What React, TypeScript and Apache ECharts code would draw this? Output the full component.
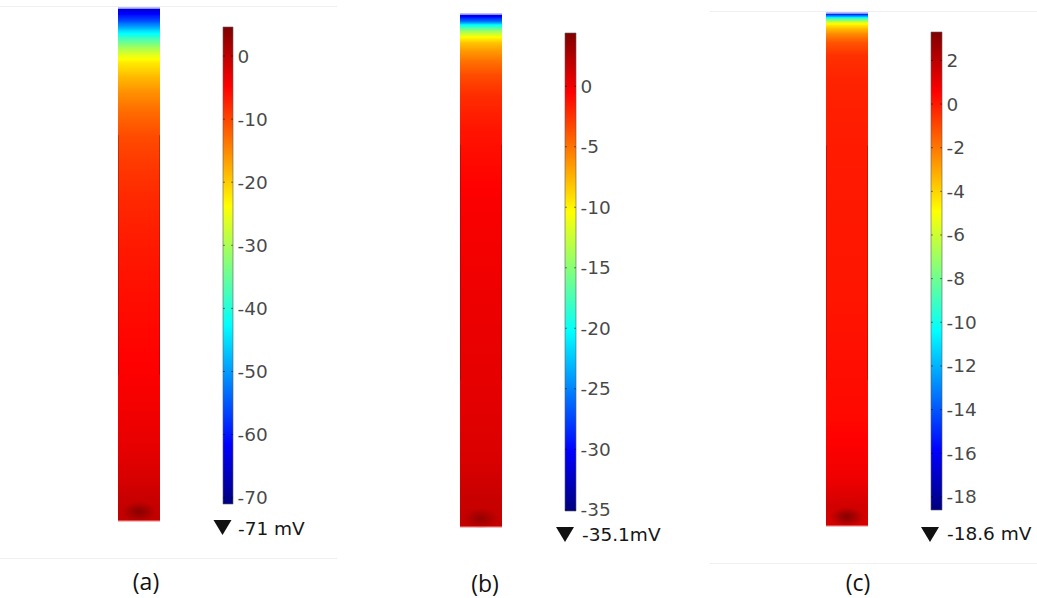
import React, { useEffect, useRef } from 'react';
import * as echarts from 'echarts';

// Rainbow (jet) colour scale stops, from minimum to maximum
const rainbowStops = ['#00007f', '#0000ff', '#007fff', '#00ffff', '#7fff7f', '#ffff00', '#ff7f00', '#ff0000', '#7f0000'];

const panelLabels = ['(a)', '(b)', '(c)'];
const rangeMin = [-71, -35.1, -18.6];
const rangeMax = [4.6, 4.4, 3.3];
const minReadouts = ['-71 mV', '-35.1mV', '-18.6 mV'];

const ticksA = [0, -10, -20, -30, -40, -50, -60, -70];
const ticksB = [0, -5, -10, -15, -20, -25, -30, -35];
const ticksC = [2, 0, -2, -4, -6, -8, -10, -12, -14, -16, -18];

// depth along the column (% of its length, from the top) and potential (mV)
const depthA = [0, 1.4, 2.7, 4.3, 5.8, 7.6, 9.2, 10.5, 13.1, 16.0, 19.9, 24.8, 30.6, 37.4, 47.2, 56.9, 66.7, 76.4, 86.2, 92.0, 95.9, 100];
const potentialA = [-66, -60.5, -55, -46, -38.5, -31, -25.6, -22.6, -19, -16, -13, -10.5, -9, -7.8, -6.6, -5.8, -5.1, -4.2, -3, -1.8, -0.8, -0.2];
const depthB = [0, 0.8, 1.6, 2.1, 2.7, 3.3, 4.3, 5.5, 7.0, 9.0, 11.9, 15.8, 22.6, 36.3, 55.8, 75.2, 86.9, 93.8, 100];
const potentialB = [-32.5, -28.8, -25, -20.5, -17.5, -14.5, -11, -8.3, -6.7, -5.1, -3.5, -2.3, -1.3, -0.4, 0.1, 0.5, 0.9, 1.5, 1.8];
const depthC = [0, 0.4, 0.8, 1.2, 1.8, 2.3, 3.1, 4.1, 5.7, 8.2, 13.1, 26.7, 55.9, 79.3, 91.0, 95.9, 100];
const potentialC = [-17, -14.2, -11.4, -8.5, -5.8, -4.6, -3.5, -2.4, -1.3, -0.5, -0.2, 0, 0.1, 0.4, 0.9, 1.5, 1.5];

// local maximum near the bottom of each column
const peakDepth = [98.2, 98.3, 98.2];
const peakPotential = [4, 3.6, 3.2];

// inner subdomain boundaries (% depth)
const subdomainA = [24.8, 71.5];
const subdomainB = [25.5, 71.3];
const subdomainC = [25.8, 71.5];

// ---- layout (pixels) ----
const LAYOUT = [
  { col: [118, 8, 42, 513], bar: [223, 27, 10, 477], tri: [222.5, 520], readout: [238, 528], caption: [146, 581] },
  { col: [460, 14, 42, 513], bar: [565, 33, 11, 478], tri: [565, 527], readout: [582, 534], caption: [485, 583] },
  { col: [826, 13, 42, 513], bar: [931, 32, 11, 478], tri: [930, 527], readout: [947, 533], caption: [858, 582] },
];

const LABEL_FONT = '"DejaVu Sans", Verdana, sans-serif';

function colorAt(t: number) {
  return echarts.color.lerp(Math.min(1, Math.max(0, t)), rainbowStops) as string;
}

function gradientStops(n0: number, n1: number) {
  const stops: { offset: number; color: string }[] = [{ offset: 0, color: colorAt(n0) }];
  const a = Math.min(n0, n1), b = Math.max(n0, n1);
  for (let k = 1; k < rainbowStops.length - 1; k++) {
    const s = k / (rainbowStops.length - 1);
    if (s > a && s < b && n1 !== n0) {
      stops.push({ offset: (s - n0) / (n1 - n0), color: rainbowStops[k] });
    }
  }
  stops.push({ offset: 1, color: colorAt(n1) });
  stops.sort((p, q) => p.offset - q.offset);
  return stops;
}

function buildOption() {
  const panels = [
    { depth: depthA, pot: potentialA, ticks: ticksA, sub: subdomainA },
    { depth: depthB, pot: potentialB, ticks: ticksB, sub: subdomainB },
    { depth: depthC, pot: potentialC, ticks: ticksC, sub: subdomainC },
  ];
  const grid: any[] = [];
  const xAxis: any[] = [];
  const yAxis: any[] = [];
  const series: any[] = [];
  const graphic: any[] = [];

  panels.forEach((p, i) => {
    const L = LAYOUT[i];
    const lo = rangeMin[i];
    const hi = rangeMax[i];
    const norm = (v: number) => (v - lo) / (hi - lo);

    const gCol = grid.length;
    grid.push({ left: L.col[0], top: L.col[1], width: L.col[2], height: L.col[3] });
    xAxis.push({ type: 'value', gridIndex: gCol, min: 0, max: 1, show: false });
    yAxis.push({ type: 'value', gridIndex: gCol, min: 0, max: 100, inverse: true, show: false });

    const gBar = grid.length;
    grid.push({ left: L.bar[0], top: L.bar[1], width: L.bar[2], height: L.bar[3] });
    xAxis.push({ type: 'value', gridIndex: gBar, min: 0, max: 1, show: false });
    yAxis.push({ type: 'value', gridIndex: gBar, min: lo, max: hi, show: false });

    // column field
    const segments = p.depth.slice(0, -1).map((d, k) => [d, p.depth[k + 1], p.pot[k], p.pot[k + 1]]);
    series.push({
      type: 'custom', xAxisIndex: gCol, yAxisIndex: gCol, silent: true, data: segments,
      renderItem: (params: any, api: any) => {
        const p0 = api.coord([0, api.value(0)]);
        const p1 = api.coord([1, api.value(1)]);
        return {
          type: 'rect',
          shape: { x: p0[0], y: p0[1] - 0.3, width: p1[0] - p0[0], height: p1[1] - p0[1] + 0.6 },
          style: { fill: new echarts.graphic.LinearGradient(0, 0, 0, 1, gradientStops(norm(api.value(2)), norm(api.value(3)))) },
        };
      },
    });

    // bottom local maximum
    series.push({
      type: 'custom', xAxisIndex: gCol, yAxisIndex: gCol, silent: true,
      data: [[peakDepth[i], peakPotential[i]]],
      renderItem: (params: any, api: any) => {
        const c = api.coord([0.5, api.value(0)]);
        const col = colorAt(norm(api.value(1)));
        const w = 34, h = 20;
        return {
          type: 'rect',
          shape: { x: c[0] - w / 2, y: c[1] - h / 2, width: w, height: h },
          style: {
            fill: new echarts.graphic.RadialGradient(0.5, 0.5, 0.5, [
              { offset: 0, color: col },
              { offset: 0.45, color: echarts.color.modifyAlpha(col, 0.55) },
              { offset: 1, color: echarts.color.modifyAlpha(col, 0) },
            ]),
          },
        };
      },
    });

    // edges: subdomain boundary lines, top & bottom boundaries
    series.push({
      type: 'custom', xAxisIndex: gCol, yAxisIndex: gCol, silent: true,
      data: [[p.sub[0], p.sub[1]]],
      renderItem: (params: any, api: any) => {
        const a0 = api.coord([0, api.value(0)]);
        const a1 = api.coord([1, api.value(1)]);
        const top = api.coord([0, 0]);
        const topR = api.coord([1, 0]);
        const bot = api.coord([0, 100]);
        const botR = api.coord([1, 100]);
        const edge = { stroke: 'rgba(90,0,0,0.3)', lineWidth: 1 };
        return {
          type: 'group',
          children: [
            { type: 'line', shape: { x1: a0[0] + 0.5, y1: a0[1], x2: a0[0] + 0.5, y2: a1[1] }, style: edge },
            { type: 'line', shape: { x1: a1[0] - 0.5, y1: a0[1], x2: a1[0] - 0.5, y2: a1[1] }, style: edge },
            { type: 'line', shape: { x1: top[0], y1: top[1] + 0.5, x2: topR[0], y2: topR[1] + 0.5 }, style: { stroke: 'rgba(170,170,255,0.85)', lineWidth: 1 } },
            { type: 'line', shape: { x1: bot[0], y1: bot[1] - 0.5, x2: botR[0], y2: botR[1] - 0.5 }, style: { stroke: 'rgba(240,90,90,0.8)', lineWidth: 1 } },
          ],
        };
      },
    });

    // colour bar
    series.push({
      type: 'custom', xAxisIndex: gBar, yAxisIndex: gBar, silent: true,
      data: [[lo, hi]],
      renderItem: (params: any, api: any) => {
        const tl = api.coord([0, api.value(1)]);
        const br = api.coord([1, api.value(0)]);
        const n = rainbowStops.length - 1;
        const stops = rainbowStops.map((c, k) => ({ offset: 1 - k / n, color: c })).reverse();
        return {
          type: 'rect',
          shape: { x: tl[0], y: tl[1], width: br[0] - tl[0], height: br[1] - tl[1] },
          style: { fill: new echarts.graphic.LinearGradient(0, 0, 0, 1, stops), stroke: 'rgba(90,90,90,0.75)', lineWidth: 0.8 },
        };
      },
    });

    // colour bar tick marks
    series.push({
      type: 'custom', xAxisIndex: gBar, yAxisIndex: gBar, silent: true,
      data: p.ticks.map((t) => [0, t]),
      renderItem: (params: any, api: any) => {
        const l = api.coord([0, api.value(1)]);
        const r = api.coord([1, api.value(1)]);
        const st = { stroke: 'rgba(0,0,0,0.45)', lineWidth: 1 };
        return {
          type: 'group',
          children: [
            { type: 'line', shape: { x1: l[0], y1: l[1], x2: l[0] + 2, y2: l[1] }, style: st },
            { type: 'line', shape: { x1: r[0] - 2, y1: r[1], x2: r[0], y2: r[1] }, style: st },
          ],
        };
      },
    });

    // tick labels
    series.push({
      type: 'scatter', xAxisIndex: gBar, yAxisIndex: gBar, silent: true,
      symbolSize: 1, itemStyle: { color: 'rgba(0,0,0,0)' },
      data: p.ticks.map((t) => [1, t]),
      label: {
        show: true, position: 'right', distance: 4,
        fontFamily: LABEL_FONT, fontSize: 18.5, color: '#161616',
        formatter: (d: any) => String(d.value[1]),
      },
    });

    // minimum marker and readout
    const [tx, ty] = L.tri;
    graphic.push({
      type: 'polygon', silent: true,
      shape: { points: [[tx - 9, ty], [tx + 9, ty], [tx, ty + 15]] },
      style: { fill: '#111' },
    });
    graphic.push({
      type: 'text', silent: true, x: L.readout[0], y: L.readout[1],
      style: { text: minReadouts[i], font: `18.5px ${LABEL_FONT}`, fill: '#161616', textAlign: 'left', textVerticalAlign: 'middle', align: 'left', verticalAlign: 'middle' },
    });
    graphic.push({
      type: 'text', silent: true, x: L.caption[0], y: L.caption[1],
      style: { text: panelLabels[i], font: '23px "Open Sans", "Noto Sans", sans-serif', fill: '#111', textAlign: 'center', textVerticalAlign: 'middle', align: 'center', verticalAlign: 'middle' },
    });
  });

  // faint image frames
  const frame = { stroke: '#efefef', lineWidth: 1 };
  graphic.push({ type: 'line', silent: true, shape: { x1: 0, y1: 6.5, x2: 337, y2: 6.5 }, style: frame });
  graphic.push({ type: 'line', silent: true, shape: { x1: 0, y1: 558.5, x2: 337, y2: 558.5 }, style: frame });
  graphic.push({ type: 'line', silent: true, shape: { x1: 710, y1: 11.5, x2: 1037, y2: 11.5 }, style: frame });
  graphic.push({ type: 'line', silent: true, shape: { x1: 710, y1: 563.5, x2: 1037, y2: 563.5 }, style: frame });

  return { animation: false, backgroundColor: '#ffffff', grid, xAxis, yAxis, series, graphic };
}

export default function App() {
  const ref = useRef<HTMLDivElement>(null);
  useEffect(() => {
    const chart = echarts.init(ref.current as HTMLDivElement, null, { renderer: 'svg' });
    chart.setOption(buildOption() as any);
    return () => chart.dispose();
  }, []);
  return <div ref={ref} style={{ position: 'fixed', left: 0, top: 0, width: 1037, height: 598, background: '#fff' }} />;
}
